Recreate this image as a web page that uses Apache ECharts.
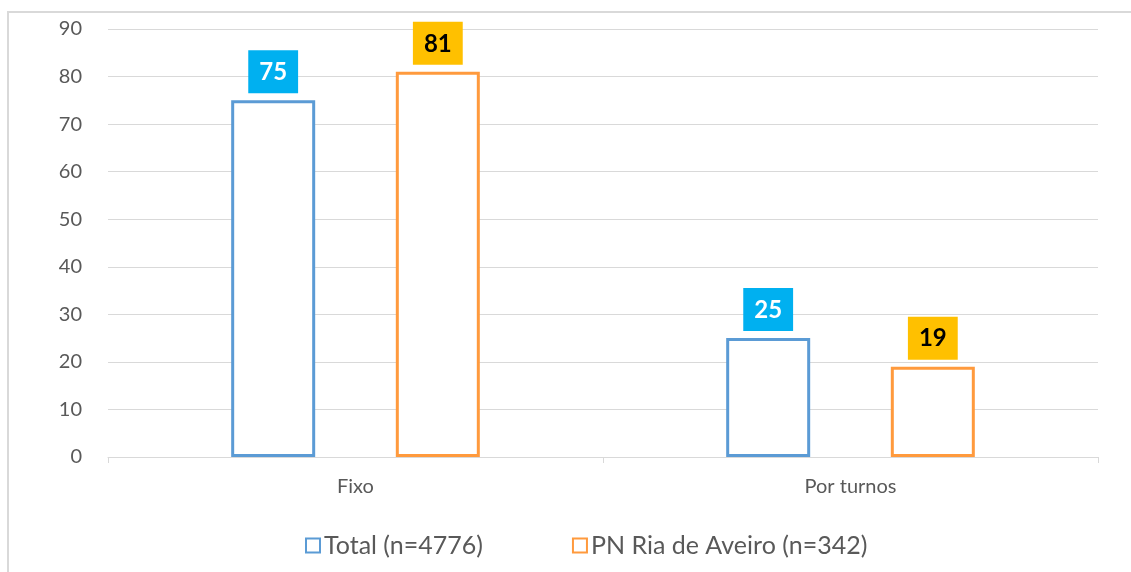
<!DOCTYPE html>
<html>
<head>
<meta charset="utf-8">
<script src="https://cdn.jsdelivr.net/npm/echarts@6/dist/echarts.min.js"></script>
<style>
  html, body { margin: 0; padding: 0; background: #fff; }
  #chart { width: 1131px; height: 572px; }
</style>
</head>
<body>
<div id="chart"></div>
<script>
const categories = ['Fixo', 'Por turnos'];
const totalValues = [75, 25];
const aveiroValues = [81, 19];
const seriesNames = ['Total (n=4776)', 'PN Ria de Aveiro (n=342)'];

const chart = echarts.init(document.getElementById('chart'));
const font = 'Lato, "Open Sans", sans-serif';

// label box above each bar
function boxLabel(bg, fg) {
  return {
    show: true,
    position: 'top',
    distance: 7,
    backgroundColor: bg,
    color: fg,
    fontFamily: font,
    fontWeight: 'bold',
    fontSize: 24,
    padding: [10, 11, 9, 11]
  };
}

const options = {
  backgroundColor: '#fff',
  animation: false,
  textStyle: { fontFamily: font },
  graphic: [{
    type: 'rect',
    shape: { x: 8, y: 12, width: 1200, height: 700 },
    style: { fill: 'none', stroke: '#D9D9D9', lineWidth: 2 },
    silent: true
  }],
  grid: { left: 108, right: 33, top: 29, bottom: 115 },
  legend: {
    left: 300,
    top: 528,
    itemWidth: 14,
    itemHeight: 14,
    itemGap: 89,
    icon: 'rect',
    textStyle: { color: '#595959', fontSize: 25, fontFamily: font, padding: [0, 0, 0, -1] },
    data: seriesNames
  },
  xAxis: {
    type: 'category',
    data: categories,
    axisLine: { lineStyle: { color: '#D9D9D9', width: 1 } },
    axisTick: { show: true, length: 6, lineStyle: { color: '#D9D9D9' } },
    axisLabel: { color: '#595959', fontSize: 20, fontFamily: font, margin: 20 }
  },
  yAxis: {
    type: 'value',
    min: 0,
    max: 90,
    interval: 10,
    axisLine: { show: false },
    axisTick: { show: false },
    axisLabel: { color: '#595959', fontSize: 20, fontFamily: font, margin: 26 },
    splitLine: { lineStyle: { color: '#D9D9D9', width: 1 } }
  },
  series: [
    {
      name: seriesNames[0],
      type: 'bar',
      data: totalValues,
      barWidth: 84,
      barGap: '96%',
      itemStyle: { color: '#fff', borderColor: '#5B9BD5', borderWidth: 3 },
      label: boxLabel('#00B0F0', '#fff')
    },
    {
      name: seriesNames[1],
      type: 'bar',
      data: aveiroValues,
      barWidth: 84,
      itemStyle: { color: '#fff', borderColor: '#FF9A3D', borderWidth: 3 },
      label: boxLabel('#FFC000', '#000')
    }
  ]
};

chart.setOption(options);
</script>
</body>
</html>
